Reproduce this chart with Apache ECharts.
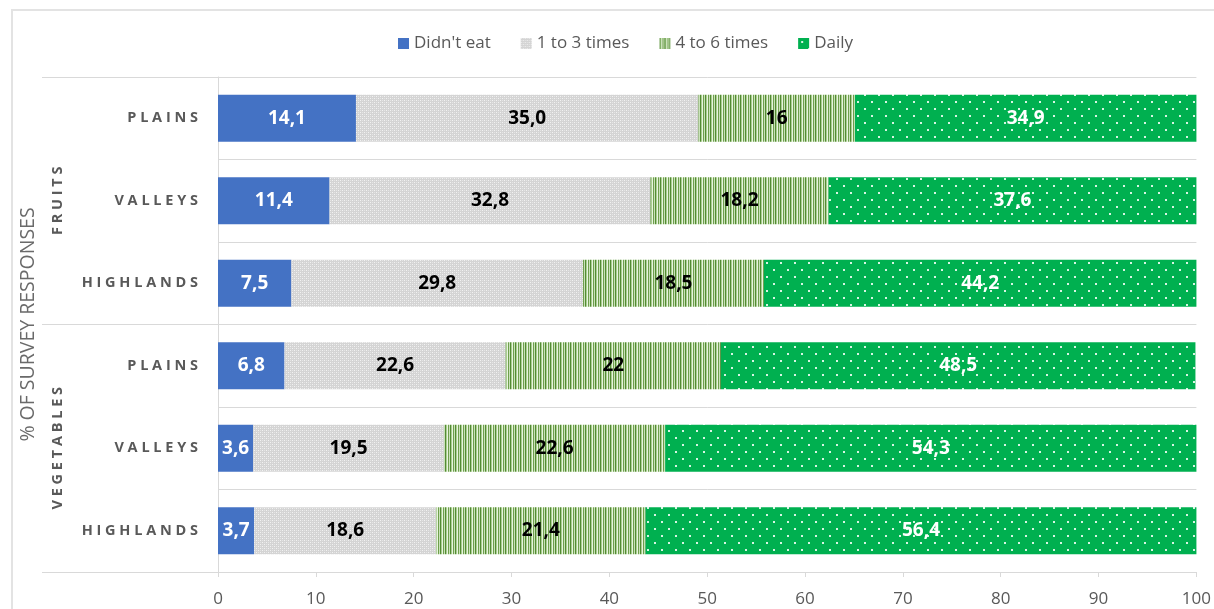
<!DOCTYPE html>
<html>
<head>
<meta charset="utf-8">
<script src="https://cdn.jsdelivr.net/npm/echarts@6/dist/echarts.min.js"></script>
<style>
  html, body { margin: 0; padding: 0; background: #fff; }
  #wrap { position: relative; width: 1214px; height: 609px; overflow: hidden; }
  #frame { position: absolute; left: 11px; top: 9px; width: 1400px; height: 800px;
           border-left: 2px solid #e3e3e3; border-top: 2px solid #e3e3e3; pointer-events: none; }
  #chart { position: absolute; left: 0; top: 0; width: 1214px; height: 609px; }
</style>
</head>
<body>
<div id="wrap">
  <div id="chart"></div>
  <div id="frame"></div>
</div>
<script>
// Region rows (top to bottom) and the food group each block of three belongs to
const categories = ['PLAINS', 'VALLEYS', 'HIGHLANDS', 'PLAINS', 'VALLEYS', 'HIGHLANDS'];
const groups = ['FRUITS', 'VEGETABLES'];
const seriesNames = ["Didn't eat", '1 to 3 times', '4 to 6 times', 'Daily'];

// Shares of responses (%), written as printed on the bars
const didntEat   = ['14,1', '11,4', '7,5', '6,8', '3,6', '3,7'];
const oneToThree = ['35,0', '32,8', '29,8', '22,6', '19,5', '18,6'];
const fourToSix  = ['16', '18,2', '18,5', '22', '22,6', '21,4'];
const daily      = ['34,9', '37,6', '44,2', '48,5', '54,3', '56,4'];

const axisName = '% OF SURVEY RESPONSES';

const TEXT = '#595959';
const RULE = '#d9d9d9';
const FONT = 'Open Sans';

function toItems(list) {
  return list.map(s => ({ value: parseFloat(s.replace(',', '.')), text: s }));
}
function spaced(s) { return s.split('').join(' '); }

// Tile patterns used as bar fills
function tile(w, h, draw) {
  const c = document.createElement('canvas');
  c.width = w; c.height = h;
  draw(c.getContext('2d'));
  return c;
}
const greyDots = tile(4, 4, g => {
  g.fillStyle = '#d4d4d4'; g.fillRect(0, 0, 4, 4);
  g.fillStyle = '#f2f2f2';
  g.fillRect(0, 0, 1, 1); g.fillRect(2, 2, 1, 1);
  g.fillStyle = '#e4e4e4';
  g.fillRect(2, 0, 1, 1); g.fillRect(0, 2, 1, 1);
});
const greenStripes = tile(5, 4, g => {
  const cols = ['#548a35', '#a9cf8f', '#e8f3e0', '#6f9f4c', '#c9e2b8'];
  cols.forEach((c, i) => { g.fillStyle = c; g.fillRect(i, 0, 1, 4); });
});
const dailyDots = tile(14, 14, g => {
  g.fillStyle = '#00b050'; g.fillRect(0, 0, 14, 14);
  g.fillStyle = '#d8f5e3';
  g.fillRect(3, 3, 2, 2); g.fillRect(10, 10, 2, 2);
});

const fills = [
  '#4472c4',
  { image: greyDots, repeat: 'repeat' },
  { image: greenStripes, repeat: 'repeat' },
  { image: dailyDots, repeat: 'repeat' }
];
const labelColors = ['#ffffff', '#000000', '#000000', '#ffffff'];
const values = [didntEat, oneToThree, fourToSix, daily];

const chart = echarts.init(document.getElementById('chart'), null, { renderer: 'canvas' });

chart.setOption({
  animation: false,
  textStyle: { fontFamily: FONT },
  legend: {
    top: 30,
    left: 393,
    itemWidth: 11,
    itemHeight: 11,
    itemGap: 30,
    icon: 'rect',
    textStyle: { color: TEXT, fontSize: 17, fontFamily: FONT },
    data: seriesNames
  },
  grid: { left: 218, right: 16, top: 77, bottom: 37, containLabel: false },
  xAxis: {
    type: 'value',
    min: 0, max: 100, interval: 10,
    axisLine: { show: true, lineStyle: { color: RULE, width: 1 } },
    axisTick: { show: true, length: 5, lineStyle: { color: RULE } },
    splitLine: { show: false },
    axisLabel: { color: TEXT, fontSize: 17, margin: 19, fontFamily: FONT }
  },
  yAxis: [
    {
      type: 'category',
      inverse: true,
      data: categories,
      axisLine: { show: true, lineStyle: { color: RULE } },
      axisTick: { show: false },
      splitLine: { show: true, lineStyle: { color: RULE, width: 1 } },
      axisLabel: {
        color: TEXT, fontSize: 14.5, fontWeight: 'bold', margin: 20, fontFamily: FONT,
        formatter: v => spaced(v)
      }
    },
    {
      type: 'category',
      inverse: true,
      position: 'left',
      offset: 176,
      data: groups,
      axisLine: { show: false },
      axisTick: { show: true, inside: true, length: 176, lineStyle: { color: RULE } },
      axisLabel: {
        inside: true, rotate: 90, margin: 8,
        color: TEXT, fontSize: 14.5, fontWeight: 'bold', fontFamily: FONT,
        formatter: v => spaced(v)
      },
      name: axisName,
      nameLocation: 'middle',
      nameRotate: 90,
      nameGap: 4,
      nameMoveOverlap: false,
      nameTextStyle: { color: '#6a6a6a', fontSize: 19.5, fontFamily: FONT }
    }
  ],
  series: seriesNames.map((name, i) => ({
    name,
    type: 'bar',
    stack: 'share',
    yAxisIndex: 0,
    barCategoryGap: '43%',
    itemStyle: { color: fills[i] },
    label: {
      show: true,
      position: 'inside',
      color: labelColors[i],
      fontSize: 19,
      fontWeight: 'bold',
      fontFamily: FONT,
      formatter: p => p.data.text
    },
    data: toItems(values[i])
  }))
});
</script>
</body>
</html>
